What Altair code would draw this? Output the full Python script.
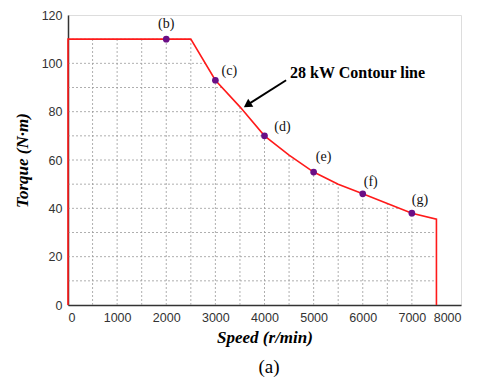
import altair as alt
import numpy as np
import pandas as pd

# Contour line
speed = [0, 0, 2500, 3000, 3500, 4000, 4500, 5000, 5500, 6000, 6500, 7000, 7500, 7500]
torque = [0, 110, 110, 93, 82, 70, 62, 55, 50, 46, 42, 38, 35.5, 0]

# Marked operating points
pt_speed = [2000, 3000, 4000, 5000, 6000, 7000]
pt_torque = [110, 93, 70, 55, 46, 38]
pt_label = ["(b)", "(c)", "(d)", "(e)", "(f)", "(g)"]
lab_dx = [0, 14, 18, 10, 8, 8]
lab_dy = [-15, -9, -9, -15, -12, -13]

# Annotation arrow
arrow_x = [4440, 3650]
arrow_y = [93, 82.8]
arrow_text = "28 kW Contour line"

line_df = pd.DataFrame({"s": speed, "t": torque, "o": list(range(len(speed)))})
pt_df = pd.DataFrame({"s": pt_speed, "t": pt_torque, "lab": pt_label})

# Grid lines are drawn only inside the region under the contour
env_s = np.array(speed[1:-1], dtype=float)
env_t = np.array(torque[1:-1], dtype=float)
gxv = np.arange(500, 7500, 500)
gyv = np.arange(10, 111, 10)
grid_x = pd.DataFrame({"g": gxv, "b": 0.0, "top": np.interp(gxv, env_s, env_t)})
inv_s = env_s[1:][::-1]
inv_t = env_t[1:][::-1]
grid_y = pd.DataFrame({
    "g": gyv, "l": 0.0,
    "right": [7500.0 if v <= inv_t[0] else float(np.interp(v, inv_t, inv_s)) for v in gyv]})

xs = alt.Scale(domain=[0, 8000], nice=False)
ys = alt.Scale(domain=[0, 120], nice=False)

xaxis = alt.Axis(
    values=list(range(0, 8001, 1000)), format="d", title="Speed (r/min)",
    titleFont="Liberation Serif", titleFontStyle="italic", titleFontWeight="bold",
    titleFontSize=17, titleColor="#000", titlePadding=6,
    labelFont="Liberation Sans", labelFontSize=12.5, labelColor="#333",
    domainColor="#333", domainWidth=1.5, ticks=False, labelPadding=6, grid=False)
yaxis = alt.Axis(
    values=list(range(0, 121, 20)), title="Torque (N·m)",
    titleFont="Liberation Serif", titleFontStyle="italic", titleFontWeight="bold",
    titleFontSize=17, titleColor="#000", titlePadding=10,
    labelFont="Liberation Sans", labelFontSize=12.5, labelColor="#333",
    domainColor="#333", domainWidth=1.5, ticks=False, labelPadding=6, grid=False)


def X(f):
    return alt.X(f, scale=xs, axis=xaxis)


def Y(f):
    return alt.Y(f, scale=ys, axis=yaxis)


gx = alt.Chart(grid_x).mark_rule(color="#9a9a9a", strokeDash=[2, 2], strokeWidth=0.8).encode(
    x=X("g:Q"), y=Y("b:Q"), y2="top:Q")
gy = alt.Chart(grid_y).mark_rule(color="#9a9a9a", strokeDash=[2, 2], strokeWidth=0.8).encode(
    y=Y("g:Q"), x=X("l:Q"), x2="right:Q")

line = alt.Chart(line_df).mark_line(color="#ff1a1a", strokeWidth=1.6).encode(
    x=X("s:Q"), y=Y("t:Q"), order="o:Q")

pts = alt.Chart(pt_df).mark_circle(color="#6a0f86", size=45, opacity=1).encode(
    x=X("s:Q"), y=Y("t:Q"))

labels = []
for i in range(len(pt_label)):
    labels.append(alt.Chart(pt_df.iloc[[i]]).mark_text(
        font="Liberation Serif", fontSize=14, color="#111",
        dx=lab_dx[i], dy=lab_dy[i]).encode(
        x=X("s:Q"), y=Y("t:Q"), text="lab:N"))

arr_df = pd.DataFrame({"x": [arrow_x[0]], "y": [arrow_y[0]], "x2": [arrow_x[1]], "y2": [arrow_y[1]]})
arrow = alt.Chart(arr_df).mark_rule(color="#000", strokeWidth=2).encode(
    x=X("x:Q"), y=Y("y:Q"), x2="x2:Q", y2="y2:Q")
head = alt.Chart(pd.DataFrame({"x": [arrow_x[1]], "y": [arrow_y[1]]})).mark_point(
    shape="triangle-up", filled=True, color="#000", size=90, angle=237, opacity=1).encode(
    x=X("x:Q"), y=Y("y:Q"))
atext = alt.Chart(pd.DataFrame({"x": [arrow_x[0]], "y": [arrow_y[0]], "t": [arrow_text]})).mark_text(
    font="Liberation Serif", fontSize=16, fontWeight="bold", color="#000",
    align="left", baseline="middle", dx=4, dy=-7).encode(
    x=X("x:Q"), y=Y("y:Q"), text="t:N")

cap = alt.Chart(pd.DataFrame({"t": ["(a)"]})).mark_text(
    font="Liberation Serif", fontSize=19, color="#000", baseline="middle").encode(
    x=alt.value(201), y=alt.value(352), text="t:N")

chart = alt.layer(gx, gy, line, pts, *labels, arrow, head, atext, cap).properties(
    width=393, height=290,
    autosize=alt.AutoSizeParams(type="none"),
    padding={"left": 68, "top": 15, "right": 19, "bottom": 76},
).configure_view(stroke=None).configure(background="white")

chart.save("out.html", embed_options={"renderer": "svg", "actions": False})
